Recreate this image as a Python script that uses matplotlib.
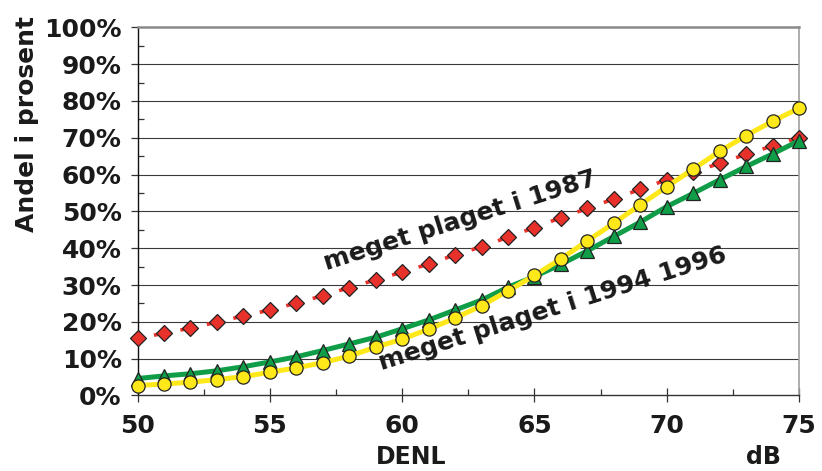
import matplotlib
matplotlib.use("Agg")
import matplotlib.pyplot as plt
import numpy as np
from matplotlib.collections import LineCollection
from matplotlib.ticker import MultipleLocator, FuncFormatter

# Noise level (DENL, dB)
denl = list(range(50, 76))

# Share highly annoyed (%), survey 1987
plaget_1987 = [15.5, 16.9, 18.3, 19.9, 21.6, 23.2, 25.1, 27.1, 29.3, 31.4,
               33.5, 35.7, 38.2, 40.4, 43.0, 45.6, 48.3, 50.8, 53.4, 56.0,
               58.6, 60.6, 63.1, 65.5, 67.8, 70.0]

# Share highly annoyed (%), surveys 1994/1996 (two fitted curves)
plaget_9496_a = [4.6, 5.3, 5.9, 6.7, 7.8, 9.1, 10.5, 12.2, 14.0, 15.8,
                 18.1, 20.5, 23.2, 25.9, 29.4, 32.3, 35.6, 39.3, 43.2, 47.1,
                 51.3, 54.9, 58.6, 62.2, 65.6, 69.2]
plaget_9496_b = [2.7, 3.1, 3.6, 4.3, 5.1, 6.3, 7.5, 8.9, 10.7, 13.1,
                 15.3, 18.0, 21.0, 24.4, 28.4, 32.6, 37.1, 42.0, 46.8, 51.8,
                 56.7, 61.5, 66.3, 70.6, 74.5, 78.0]

label_1987 = "meget plaget i 1987"
label_9496 = "meget plaget i 1994 1996"

FONT = "DejaVu Sans"
RED = "#e8312a"
GREEN = "#0f9d48"
YELLOW = "#ffe81a"

fig = plt.figure(figsize=(8.22, 4.71), dpi=100)
ax = fig.add_axes([0.1673, 0.1604, 0.8048, 0.7816])
ax.set_xlim(50, 75)
ax.set_ylim(0, 100)

# horizontal gridlines
for v in range(10, 100, 10):
    ax.axhline(v, color="#3a3a3a", lw=0.8, zorder=1)

x = np.array(denl, dtype=float)

# 1987: short red dashes leading into each diamond
y87 = np.array(plaget_1987)
segs = []
for i in range(len(x) - 1):
    x0, y0, x1, y1 = x[i], y87[i], x[i + 1], y87[i + 1]
    t0, t1 = 0.62, 0.95
    segs.append([(x0 + t0 * (x1 - x0), y0 + t0 * (y1 - y0)),
                 (x0 + t1 * (x1 - x0), y0 + t1 * (y1 - y0))])
ax.add_collection(LineCollection(segs, colors=RED, linewidths=2.6,
                                 zorder=3, capstyle="butt"))
ax.plot(x, y87, ls="none", marker="D", ms=8, mfc=RED, mec="#222222",
        mew=0.9, zorder=4, clip_on=False)

# 1994/1996 curves
ax.plot(x, plaget_9496_a, color=GREEN, lw=3.6, zorder=5,
        solid_capstyle="butt", clip_on=False)
ax.plot(x, plaget_9496_a, ls="none", marker="^", ms=10, mfc=GREEN,
        mec="#222222", mew=0.9, zorder=6, clip_on=False)
ax.plot(x, plaget_9496_b, color=YELLOW, lw=3.6, zorder=7,
        solid_capstyle="butt", clip_on=False)
ax.plot(x, plaget_9496_b, ls="none", marker="o", ms=9.5, mfc=YELLOW,
        mec="#222222", mew=0.9, zorder=8, clip_on=False)

# curve labels
txt_kw = dict(fontsize=18, fontweight="bold", family=FONT, color="#1a1a1a",
              ha="center", va="center", rotation_mode="anchor", zorder=9)
ax.text(62.19, 47.6, label_1987, rotation=17.5, **txt_kw)
ax.text(65.70, 23.6, label_9496, rotation=17.5, **txt_kw)

# spines
ax.spines["left"].set_color("#111111")
ax.spines["left"].set_linewidth(1.0)
ax.spines["bottom"].set_color("#333333")
ax.spines["bottom"].set_linewidth(1.0)
ax.spines["right"].set_color("#a0a0a0")
ax.spines["right"].set_linewidth(1.2)
ax.spines["top"].set_color("#8a8a8a")
ax.spines["top"].set_linewidth(1.8)

# ticks
ax.xaxis.set_major_locator(MultipleLocator(5))
ax.xaxis.set_minor_locator(MultipleLocator(2.5))
ax.yaxis.set_major_locator(MultipleLocator(10))
ax.yaxis.set_minor_locator(MultipleLocator(5))
ax.yaxis.set_major_formatter(FuncFormatter(lambda v, p: f"{v:.0f}%"))
ax.tick_params(axis="x", which="major", direction="inout", length=10,
               width=0.9, color="#333333", pad=8)
ax.tick_params(axis="x", which="minor", direction="in", length=4.3,
               width=0.9, color="#333333")
ax.tick_params(axis="y", which="major", direction="out", length=5.4,
               width=0.9, color="#333333", pad=6)
ax.tick_params(axis="y", which="minor", direction="in", length=4.3,
               width=0.9, color="#333333")
for lab in ax.get_xticklabels() + ax.get_yticklabels():
    lab.set_fontsize(18)
    lab.set_fontweight("bold")
    lab.set_family(FONT)
    lab.set_color("#1a1a1a")

# axis titles
fig.text(27 / 822, 1 - 124 / 471, "Andel i prosent", rotation=90,
         ha="center", va="center", fontsize=18, fontweight="bold",
         family=FONT, color="#1a1a1a")
fig.text(0.5, 1 - 457 / 471, "DENL", ha="center", va="center",
         fontsize=17, fontweight="bold", family=FONT, color="#1a1a1a")
fig.text(763 / 822, 1 - 457 / 471, "dB", ha="center", va="center",
         fontsize=17, fontweight="bold", family=FONT, color="#1a1a1a")

fig.savefig("out.png", dpi=100)
